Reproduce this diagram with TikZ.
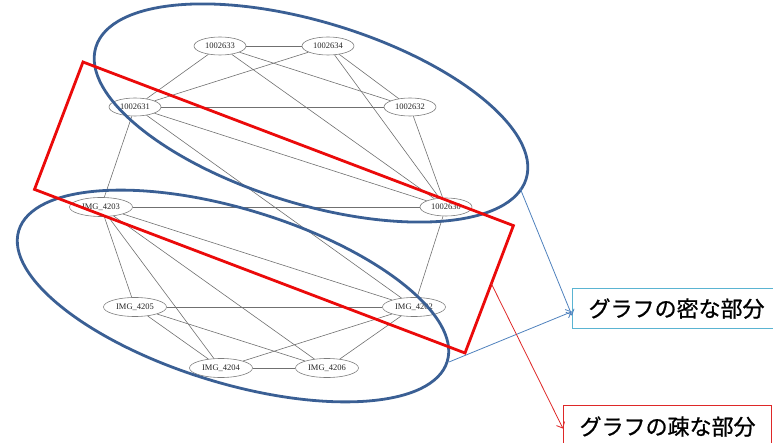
\documentclass[tikz,border=0pt]{standalone}
\usepackage{fontspec}
\setmainfont{Liberation Serif}
\newfontfamily\jpfont[FakeBold=0.8]{Noto Sans CJK JP}
\usetikzlibrary{shapes.geometric,arrows.meta}

\definecolor{edgegray}{RGB}{112,112,112}
\definecolor{nodegray}{RGB}{125,125,125}
\definecolor{groupblue}{RGB}{58,95,148}
\definecolor{pointerblue}{RGB}{79,129,189}
\definecolor{densebox}{RGB}{90,180,210}
\definecolor{sparsered}{RGB}{222,40,40}
\definecolor{bandred}{RGB}{235,10,10}

\begin{document}
\begin{tikzpicture}[x=1pt,y=-1pt,
  vtx/.style={ellipse, draw=nodegray, line width=0.6pt, fill=white,
    minimum width=52pt, minimum height=18pt, inner sep=0pt,
    font=\fontsize{8.5}{10}\selectfont, text=black!85},
  imgvtx/.style={vtx, minimum width=63pt, minimum height=19pt},
  link/.style={draw=edgegray, line width=0.6pt},
  group/.style={draw=groupblue, line width=2.8pt},
  band/.style={draw=bandred, line width=2.8pt, line join=miter},
  callout/.style={rectangle, line width=1.2pt, fill=white, anchor=north west,
    minimum width=208pt, inner sep=0pt,
    font=\jpfont\fontsize{22}{26}\selectfont},
  pointer/.style={line width=0.8pt, -{Straight Barb[length=5pt,width=9pt]}}
]
\useasboundingbox (0,0) rectangle (773,443);
\clip (0,0) rectangle (773,443);

% vertices
\node[vtx] (n633) at (220,46) {1002633};
\node[vtx] (n634) at (328,46) {1002634};
\node[vtx] (n631) at (135,107) {1002631};
\node[vtx] (n632) at (410,107) {1002632};
\node[vtx] (n630) at (446,207) {1002630};
\node[imgvtx] (i4203) at (101,207) {IMG\_4203};
\node[imgvtx] (i4205) at (135,307) {IMG\_4205};
\node[imgvtx] (i4202) at (414,307) {IMG\_4202};
\node[imgvtx] (i4204) at (221,368) {IMG\_4204};
\node[imgvtx] (i4206) at (327,368) {IMG\_4206};

% edges, ending on the vertex outlines
\foreach \a/\b in {n633/n634, n633/n631, n633/n632, n633/n630,
                   n634/n631, n634/n632, n634/n630,
                   n631/n632, n631/n630, n632/n630,
                   i4203/i4205, i4203/i4202, i4203/i4204, i4203/i4206,
                   i4205/i4202, i4205/i4204, i4205/i4206,
                   i4202/i4204, i4202/i4206, i4204/i4206,
                   n631/i4203, n631/i4202, n630/i4203, n630/i4202}
  \draw[link] (\a) -- (\b);

% dense groups
\draw[group, rotate around={-17:(311,113)}] (311,113) ellipse [x radius=225pt, y radius=91pt];
\draw[group, rotate around={-17:(233,296)}] (233,296) ellipse [x radius=224pt, y radius=87pt];

% sparse band between the groups
\coordinate (b1) at (83,62);
\coordinate (b2) at (513.4,225.6);
\coordinate (b3) at (465,353);
\coordinate (b4) at (34.5,189.4);
\draw[band] (b1) -- (b2) -- (b3) -- (b4) -- cycle;

% callouts
\node[callout, draw=densebox, minimum height=40pt] (dense) at (572,288) {グラフの密な部分};
\node[callout, draw=sparsered, minimum height=42pt] (sparse) at (563,405) {グラフの疎な部分};

% pointers
\coordinate (p1) at (520,188);
\coordinate (p2) at (449,362);
\coordinate (p3) at (491,283);
\draw[pointer, pointerblue] (p1) -- ([yshift=-7pt]dense.west);
\draw[pointer, pointerblue] (p2) -- ([yshift=-3pt]dense.west);
\draw[pointer, sparsered] (p3) -- ([yshift=-2pt]sparse.west);
\end{tikzpicture}
\end{document}
